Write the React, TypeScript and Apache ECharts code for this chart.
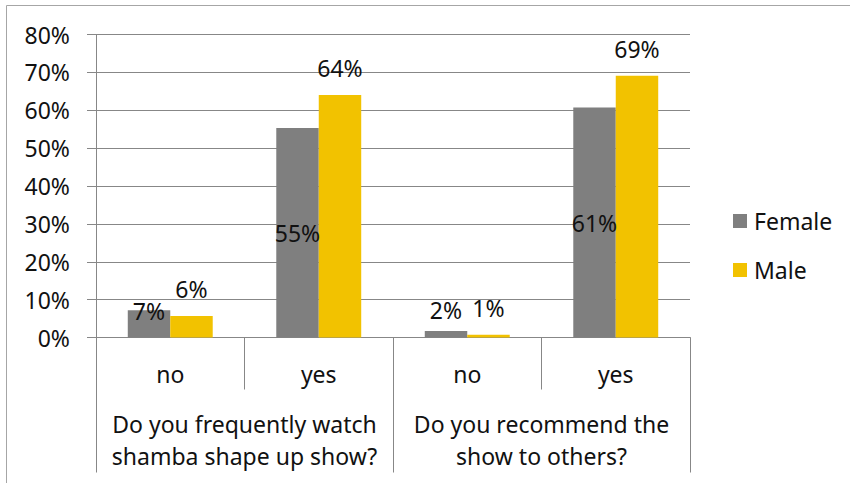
import React, { useEffect, useRef } from "react";
import * as echarts from "echarts";

const subCategories = ["no", "yes", "no", "yes"];
const groupCategories = [
  "Do you frequently watch\nshamba shape up show?",
  "Do you recommend the\nshow to others?",
];
const seriesNames = ["Female", "Male"];
const femaleValues = [0.072, 0.553, 0.017, 0.607];
const maleValues = [0.057, 0.64, 0.007, 0.691];
const yTicks = [0, 0.1, 0.2, 0.3, 0.4, 0.5, 0.6, 0.7, 0.8];

const FONT = "Noto Sans";
const FS = 23;
const TEXT = "#111111";
const GRID = "#878787";

const pct = (v: number) => Math.round(v * 100) + "%";

export default function App() {
  const ref = useRef<HTMLDivElement>(null);
  useEffect(() => {
    if (!ref.current) return;
    const chart = echarts.init(ref.current, undefined, { renderer: "svg" });
    const femaleLabelCfg = [
      { position: "top", distance: -1, verticalAlign: "middle" },
      { position: "inside" },
      { position: "top", distance: 21, verticalAlign: "middle" },
      { position: "inside" },
    ];
    chart.setOption({
      animation: false,
      backgroundColor: "#ffffff",
      textStyle: { fontFamily: FONT },
      graphic: [
        {
          type: "rect",
          shape: { x: 6.5, y: 5.5, width: 900, height: 600 },
          style: { fill: "none", stroke: "#a6a6a6", lineWidth: 1 },
          silent: true,
        },
      ],
      grid: { left: 96, right: 160, top: 34.5, bottom: 145.5, containLabel: false },
      legend: {
        orient: "vertical",
        left: 728,
        top: 204,
        icon: "rect",
        itemWidth: 14,
        itemHeight: 14,
        itemGap: 25,
        data: seriesNames,
        textStyle: {
          fontFamily: FONT,
          fontSize: FS,
          color: TEXT,
          lineHeight: 24,
          padding: [0, 0, 0, 2],
        },
      },
      xAxis: [
        {
          type: "category",
          data: subCategories,
          position: "bottom",
          axisLine: { show: true, lineStyle: { color: GRID, width: 1 } },
          axisTick: { show: true, interval: 0, length: 52, lineStyle: { color: GRID, width: 1 } },
          axisLabel: {
            interval: 0,
            margin: 23,
            fontFamily: FONT,
            fontSize: FS,
            color: TEXT,
            lineHeight: 26,
          },
        },
        {
          type: "category",
          data: groupCategories,
          position: "bottom",
          axisLine: { show: false },
          axisTick: { show: true, interval: 0, length: 135, lineStyle: { color: GRID, width: 1 } },
          axisLabel: {
            interval: 0,
            margin: 70,
            fontFamily: FONT,
            fontSize: FS,
            color: TEXT,
            lineHeight: 32,
          },
        },
      ],
      yAxis: {
        type: "value",
        min: yTicks[0],
        max: yTicks[yTicks.length - 1],
        interval: 0.1,
        axisLine: { show: true, lineStyle: { color: GRID, width: 1 } },
        axisTick: { show: true, length: 9, lineStyle: { color: GRID, width: 1 } },
        splitLine: { show: true, lineStyle: { color: GRID, width: 1 } },
        axisLabel: {
          margin: 26,
          fontFamily: FONT,
          fontSize: FS,
          color: TEXT,
          formatter: (v: number) => pct(v),
        },
      },
      series: [
        {
          name: seriesNames[0],
          type: "bar",
          xAxisIndex: 0,
          barGap: "0%",
          barCategoryGap: "42.8%",
          itemStyle: { color: "#7f7f7f" },
          data: femaleValues.map((v, i) => ({
            value: v,
            label: {
              show: true,
              formatter: pct(v),
              fontFamily: FONT,
              fontSize: FS,
              color: TEXT,
              ...femaleLabelCfg[i],
            },
          })),
        },
        {
          name: seriesNames[1],
          type: "bar",
          xAxisIndex: 0,
          barGap: "0%",
          barCategoryGap: "42.8%",
          itemStyle: { color: "#f2c200" },
          label: {
            show: true,
            position: "top",
            distance: 27,
            verticalAlign: "middle",
            fontFamily: FONT,
            fontSize: FS,
            color: TEXT,
            formatter: (p: any) => pct(p.value),
          },
          data: maleValues,
        },
      ],
    });
    return () => chart.dispose();
  }, []);
  return (
    <div
      ref={ref}
      style={{ position: "fixed", left: 0, top: 0, width: 850, height: 483 }}
    />
  );
}
